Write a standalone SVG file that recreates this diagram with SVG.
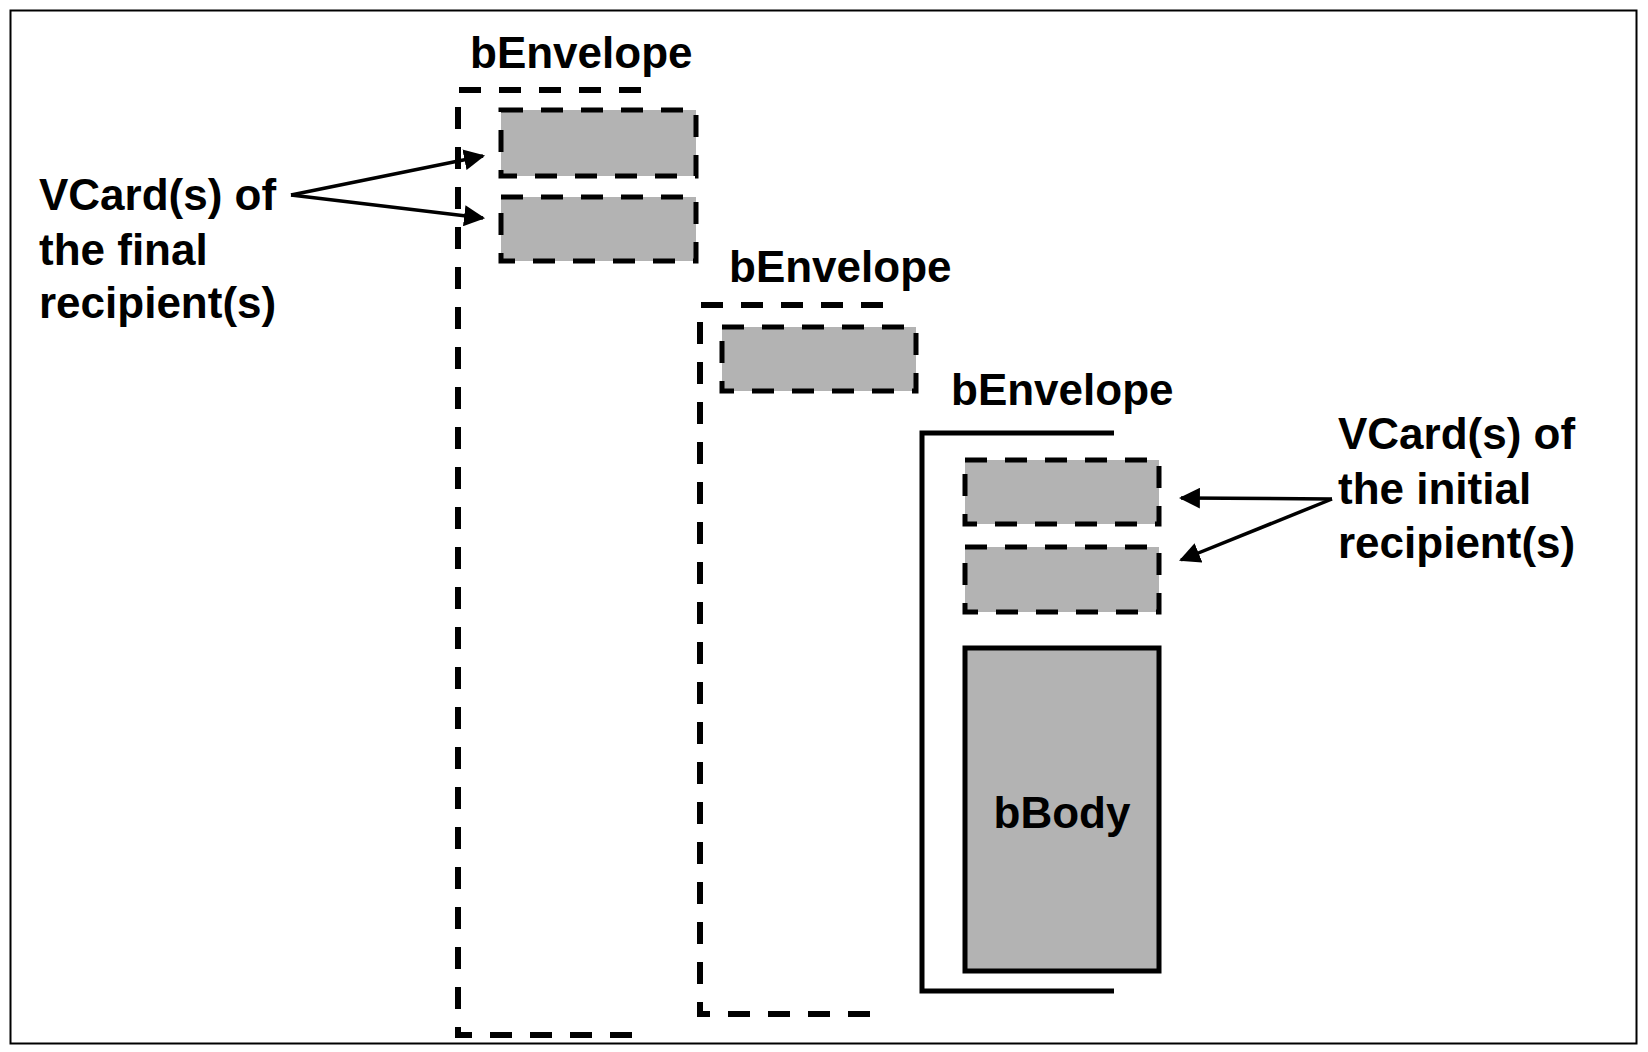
<svg xmlns="http://www.w3.org/2000/svg" width="1648" height="1052" viewBox="0 0 1648 1052">
<style>
text{font-family:"Liberation Sans",Arial,sans-serif;font-weight:bold;font-size:44px;fill:#000}
.env{fill:none;stroke:#000;stroke-width:6;stroke-dasharray:22 18}
.card{fill:#b3b3b3;stroke:#000;stroke-width:5;stroke-dasharray:22 18}
.arr{stroke:#000;stroke-width:3.5;fill:none;marker-end:url(#ah)}
</style>
<defs><marker id="ah" viewBox="0 0 10 10" refX="9" refY="5" markerWidth="6" markerHeight="6" orient="auto" markerUnits="strokeWidth"><path d="M0,0L10,5L0,10z" fill="#000"/></marker></defs>
<rect x="10.5" y="10.5" width="1626" height="1033" fill="#fff" stroke="#000" stroke-width="2"/>
<g id="env1"><path class="env" d="M641,90H458V1035H641"/><text x="470" y="68">bEnvelope</text>
<rect id="card1" class="card" x="501" y="110" width="195" height="66"/><rect id="card2" class="card" x="501" y="197" width="195" height="64"/></g>
<g id="env2"><path class="env" d="M883,305H700V1014H883"/><text x="729" y="282">bEnvelope</text>
<rect id="card3" class="card" x="722" y="327" width="194" height="64"/></g>
<g id="env3"><path fill="none" stroke="#000" stroke-width="5" d="M1114,433H922V991H1114"/><text x="951" y="405">bEnvelope</text>
<rect id="card4" class="card" x="965" y="460" width="194" height="64"/><rect id="card5" class="card" x="965" y="547" width="194" height="65"/></g>
<g id="body"><rect x="965" y="648" width="194" height="323" fill="#b3b3b3" stroke="#000" stroke-width="5"/><text x="1062" y="828" text-anchor="middle">bBody</text></g>
<g id="label-final"><text x="39" y="210">VCard(s) of</text><text x="39" y="265">the final</text><text x="39" y="318">recipient(s)</text></g>
<g id="label-initial"><text x="1338" y="449">VCard(s) of</text><text x="1338" y="504">the initial</text><text x="1338" y="558">recipient(s)</text></g>
<g id="connectors">
<path class="arr" d="M291,195L483,156"/><path class="arr" d="M291,195L483,218"/>
<path class="arr" d="M1332,499L1181,498"/><path class="arr" d="M1332,499L1181,560"/>
</g>
</svg>
